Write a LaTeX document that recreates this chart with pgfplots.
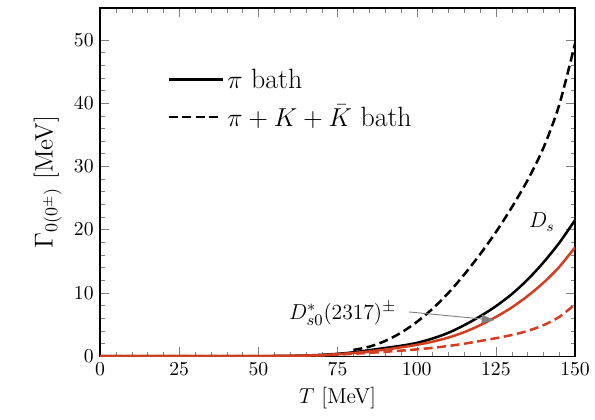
\documentclass[border=0pt]{standalone}
\usepackage{pgfplots}
\pgfplotsset{compat=1.18}
\usetikzlibrary{arrows.meta}
\definecolor{bathred}{RGB}{212,62,32}
\begin{document}
\begin{tikzpicture}
\begin{axis}[
    scale only axis,
    width=264pt, height=193.5pt,
    xmin=0, xmax=150, ymin=0, ymax=55,
    xtick={0,25,...,150}, ytick={0,10,...,50},
    minor x tick num=4, minor y tick num=4,
    tick pos=both, tick align=inside,
    major tick length=5pt, minor tick length=2.5pt,
    axis line style={line width=0.7pt},
    tick label style={font=\fontsize{11}{13}\selectfont},
    xlabel={$T$ [MeV]},
    ylabel={$\Gamma_{0(0^\pm)}$ [MeV]},
    xlabel style={font=\large},
    ylabel style={font=\fontsize{14}{16}\selectfont},
    legend style={draw=none, fill=none, at={(0.13,0.84)}, anchor=north west,
        font=\fontsize{15.5}{18}\selectfont, row sep=7pt,
        nodes={inner ysep=0.5pt}},
    legend cell align=left,
    legend image code/.code={\draw[#1] (0cm,0cm) -- (1.05cm,0cm);},
    every axis plot/.append style={line width=1.4pt, smooth, tension=0.5},
]
\coordinate (ll) at (rel axis cs:0,0);
\coordinate (ur) at (rel axis cs:1,1);
\addlegendimage{black, solid, line width=1.4pt}
\addlegendentry{$\pi$ bath}
\addlegendimage{black, dash pattern=on 5pt off 2.5pt, line width=1.4pt}
\addlegendentry{$\pi+K+\bar{K}$ bath}
% D_s, pi bath
\addplot[black, forget plot] coordinates {
(0,0) (40,0) (50,0.02) (60,0.06) (65,0.12) (70,0.22) (75,0.38) (80,0.62)
(85,0.95) (90,1.3) (95,1.65) (100,2.1) (105,2.8) (110,3.7) (115,4.9)
(120,6.3) (125,7.9) (130,9.8) (135,12.1) (140,14.8) (145,17.9) (150,21.5)};
% D_s0*(2317), pi bath
\addplot[bathred, forget plot] coordinates {
(0,0) (40,0) (50,0.02) (60,0.05) (65,0.1) (70,0.18) (75,0.32) (80,0.5)
(85,0.75) (90,1.05) (95,1.4) (100,1.8) (105,2.3) (110,2.95) (115,3.8)
(120,4.9) (125,6.2) (130,7.7) (135,9.5) (140,11.6) (145,14.1) (150,17.2)};
% D_s0*(2317), pi+K+Kbar bath
\addplot[bathred, dash pattern=on 5pt off 2.5pt, forget plot] coordinates {
(0,0) (40,0) (50,0.01) (60,0.04) (65,0.08) (70,0.14) (75,0.25) (80,0.38)
(85,0.53) (90,0.7) (95,0.88) (100,1.08) (105,1.32) (110,1.62) (115,1.98)
(120,2.4) (125,2.85) (130,3.35) (135,4.0) (140,4.9) (145,6.2) (150,8.2)};
% D_s, pi+K+Kbar bath
\addplot[black, dash pattern=on 5pt off 2.5pt, forget plot] coordinates {
(80,1.0) (85,1.5) (90,2.4) (95,3.7) (100,5.4) (105,7.5) (110,10.0)
(115,12.9) (120,16.1) (125,19.6) (130,23.5) (135,27.8) (140,32.9)
(145,39.7) (150,49.4)};
\node[font=\large] at (axis cs:139.5,21.2) {$D_s$};
\node[font=\fontsize{13}{15}\selectfont, anchor=east] at (axis cs:95.5,6.7) {$D^*_{s0}(2317)^\pm$};
\draw[gray, line width=0.5pt, -{Triangle[length=7pt,width=4.5pt]}]
    (axis cs:97.5,7.0) -- (axis cs:124.5,5.7);
\end{axis}
\pgfresetboundingbox
\path ([shift={(-55.6pt,-35pt)}]ll) rectangle ([shift={(11.1pt,4.5pt)}]ur);
\end{tikzpicture}
\end{document}
